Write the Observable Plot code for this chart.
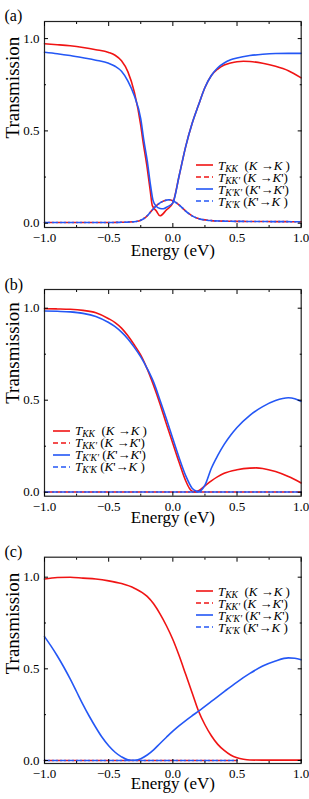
<!DOCTYPE html>
<html><head><meta charset="utf-8">
<script src="https://cdn.jsdelivr.net/npm/d3@7"></script>
<script src="https://cdn.jsdelivr.net/npm/@observablehq/plot@0.6"></script>
<style>
body{margin:0;background:#fff;font-family:"Liberation Serif","Times New Roman",Times,"DejaVu Serif",serif;}
.panel{position:relative;width:309px;}
.panel svg.plot{display:block;}
.legend{position:absolute;font-size:13px;line-height:12px;color:#000;}
.row{display:flex;align-items:center;height:12px;white-space:nowrap;}
.row svg{margin-right:5px;flex:none;}
.row span{line-height:11px;}
.row sub{font-size:9.5px;vertical-align:-2px;font-style:italic;line-height:0;}
</style>
</head><body>
<div id="root"></div>
<script>
// ---------- data ----------
const xMajor = [-1, -0.5, 0, 0.5, 1];
const xMinor = [-0.75, -0.25, 0.25, 0.75];
const yMajor = [0, 0.5, 1];
const yMinor = [0.25, 0.75];
const panelLabels = ["(a)", "(b)", "(c)"];
const xTitle = "Energy (eV)";
const yTitle = "Transmission";
const legendLabels = [
  "<i>T</i><sub>KK</sub>&nbsp; (<i>K</i>&nbsp;→<i>K</i>&nbsp;)",
  "<i>T</i><sub>KK'</sub> (<i>K</i>&nbsp;→<i>K</i>')",
  "<i>T</i><sub>K'K'</sub> (<i>K</i>'→<i>K</i>')",
  "<i>T</i><sub>K'K</sub> (<i>K</i>'→<i>K</i>&nbsp;)"
];
const seriesColors = ["#f01414", "#f01414", "#2457f5", "#2457f5"];
const seriesDash = [null, "5,3", null, "5,3"];

// panel (a)
const aE_KK = [-1,-0.9,-0.8,-0.7,-0.6,-0.5,-0.45,-0.4,-0.35,-0.3,-0.25,-0.234,-0.2,-0.175,-0.16,-0.13,-0.1,-0.05,0,0.05,0.1,0.15,0.2,0.25,0.3,0.35,0.4,0.45,0.5,0.55,0.6,0.7,0.8,0.9,1.0];
const aKK    = [0.972,0.967,0.961,0.952,0.94,0.925,0.91,0.88,0.82,0.71,0.53,0.45,0.30,0.17,0.095,0.068,0.04,0.072,0.11,0.26,0.415,0.54,0.64,0.735,0.8,0.835,0.857,0.868,0.875,0.877,0.876,0.866,0.85,0.826,0.787];
const aE_KpKp = [-1,-0.9,-0.8,-0.7,-0.6,-0.5,-0.45,-0.4,-0.35,-0.3,-0.25,-0.226,-0.2,-0.175,-0.155,-0.13,-0.1,-0.075,-0.04,0,0.05,0.1,0.15,0.2,0.25,0.3,0.35,0.4,0.45,0.5,0.6,0.7,0.8,0.9,1.0];
const aKpKp    = [0.926,0.918,0.908,0.896,0.883,0.866,0.85,0.823,0.77,0.69,0.565,0.448,0.34,0.21,0.125,0.092,0.08,0.078,0.09,0.11,0.26,0.415,0.54,0.64,0.735,0.8,0.842,0.868,0.885,0.895,0.908,0.915,0.919,0.92,0.92];
const aE_cross = [-1,-0.8,-0.6,-0.5,-0.4,-0.35,-0.3,-0.25,-0.2,-0.175,-0.15,-0.1,-0.05,-0.03,0,0.05,0.1,0.15,0.2,0.3,0.4,0.5,0.7,1.0];
const aKKp     = [0.004,0.004,0.004,0.004,0.005,0.006,0.008,0.016,0.04,0.06,0.08,0.11,0.125,0.127,0.122,0.098,0.066,0.04,0.025,0.014,0.011,0.01,0.009,0.008];
const aKpK     = [0.004,0.004,0.004,0.004,0.005,0.006,0.008,0.016,0.04,0.06,0.08,0.11,0.125,0.127,0.122,0.098,0.066,0.04,0.025,0.014,0.011,0.01,0.009,0.008];

// panel (b)
const bE_KK = [-1,-0.9,-0.8,-0.7,-0.6,-0.5,-0.45,-0.4,-0.35,-0.3,-0.25,-0.2,-0.15,-0.1,-0.05,0,0.05,0.1,0.13,0.15,0.17,0.2,0.25,0.3,0.35,0.4,0.5,0.6,0.65,0.7,0.8,0.9,1.0];
const bKK   = [0.997,0.996,0.994,0.988,0.975,0.943,0.922,0.892,0.85,0.8,0.745,0.67,0.58,0.48,0.37,0.265,0.16,0.062,0.02,0.005,0.002,0.008,0.035,0.062,0.085,0.103,0.122,0.131,0.132,0.129,0.112,0.085,0.05];
const bE_KpKp = [-1,-0.9,-0.8,-0.7,-0.6,-0.5,-0.45,-0.4,-0.35,-0.3,-0.25,-0.2,-0.15,-0.1,-0.05,0,0.05,0.1,0.15,0.18,0.2,0.22,0.25,0.3,0.35,0.4,0.45,0.5,0.6,0.7,0.8,0.9,0.95,1.0];
const bKpKp   = [0.985,0.983,0.98,0.972,0.955,0.922,0.9,0.87,0.833,0.787,0.735,0.672,0.598,0.5,0.398,0.29,0.185,0.09,0.022,0.006,0.003,0.01,0.038,0.13,0.2,0.26,0.31,0.352,0.418,0.465,0.498,0.513,0.508,0.493];
const bE_cross = [-1,-0.5,0,0.5,1.0];
const bKKp     = [0.001,0.001,0.001,0.001,0.001];
const bKpK     = [0.001,0.001,0.001,0.001,0.001];

// panel (c)
const cE_KK = [-1,-0.9,-0.8,-0.7,-0.6,-0.5,-0.4,-0.3,-0.2,-0.15,-0.1,-0.05,0,0.05,0.1,0.15,0.2,0.25,0.3,0.35,0.4,0.45,0.5,0.55,0.6,0.7,0.8,0.9,1.0];
const cKK   = [0.99,0.998,1.0,0.995,0.99,0.98,0.965,0.94,0.895,0.855,0.8,0.735,0.66,0.57,0.47,0.37,0.27,0.195,0.135,0.088,0.055,0.03,0.015,0.007,0.003,0.002,0.002,0.002,0.002];
const cE_KpKp = [-1,-0.95,-0.9,-0.85,-0.8,-0.75,-0.7,-0.65,-0.6,-0.55,-0.5,-0.45,-0.4,-0.35,-0.3,-0.25,-0.2,-0.15,-0.1,-0.05,0,0.05,0.1,0.15,0.2,0.3,0.4,0.5,0.6,0.7,0.8,0.9,0.95,1.0];
const cKpKp   = [0.676,0.625,0.57,0.51,0.445,0.375,0.305,0.24,0.18,0.125,0.08,0.045,0.02,0.004,0.001,0.01,0.03,0.058,0.093,0.127,0.16,0.19,0.218,0.244,0.269,0.322,0.376,0.428,0.475,0.515,0.543,0.56,0.558,0.55];
const cE_cross = [-1,-0.5,0,0.5];
const cKKp     = [0.0,0.0,0.0,0.0];
const cKpK     = [0.0,0.0,0.0,0.0];

// ---------- drawing ----------
const fmt = d3.format(".1f");
const panels = [
  {label: panelLabels[0], height: 265, mt: 21, mb: 38, yDom: [-0.0233, 1.0926], labelDy: -12, xtDy: 28.5, ytDy: 14,
   series: [[aE_KK, aKK], [aE_cross, aKKp], [aE_KpKp, aKpKp], [aE_cross, aKpK]],
   legend: {left: 196, top: 159}},
  {label: panelLabels[1], height: 268, mt: 24, mb: 37.3, yDom: [-0.0217, 1.1016], labelDy: -10.7, xtDy: 26.5, ytDy: 11,
   series: [[bE_KK, bKK], [bE_cross, bKKp], [bE_KpKp, bKpKp], [bE_cross, bKpK]],
   legend: {left: 53, top: 159.7}},
  {label: panelLabels[2], height: 266, mt: 23.7, mb: 36, yDom: [-0.0164, 1.109], labelDy: -11.7, xtDy: 25.5, ytDy: 14,
   series: [[cE_KK, cKK], [cE_cross, cKKp], [cE_KpKp, cKpKp], [cE_cross, cKpK]],
   legend: {left: 196, top: 52}}
];

const root = document.getElementById("root");
const font = "'Liberation Serif', 'Times New Roman', Times, 'DejaVu Serif', serif";
for (const p of panels) {
  const lineMarks = p.series.map(([e, t], i) => Plot.line(t, {
    x: e, y: t, stroke: seriesColors[i], strokeWidth: 1.6,
    strokeDasharray: seriesDash[i], strokeDashoffset: i === 1 ? 4 : 0, curve: "monotone-x"
  }));
  const chart = Plot.plot({
    width: 309, height: p.height,
    marginLeft: 44, marginRight: 8.3, marginTop: p.mt, marginBottom: p.mb,
    style: {fontFamily: font, fontSize: "13px", color: "#000", background: "#fff"},
    x: {domain: [-1, 1]},
    y: {domain: p.yDom},
    marks: [
      ...lineMarks,
      Plot.frame({stroke: "#222", strokeWidth: 1.2}),
      Plot.axisX({anchor: "bottom", ticks: xMajor, tickSize: -4, tickPadding: 9.5, tickFormat: fmt, label: null, fontSize: 13}),
      Plot.axisX({anchor: "bottom", ticks: xMinor, tickSize: -2, tickFormat: () => "", label: null}),
      Plot.axisX({anchor: "top", ticks: xMajor, tickSize: -4, tickFormat: () => "", label: null}),
      Plot.axisX({anchor: "top", ticks: xMinor, tickSize: -2, tickFormat: () => "", label: null}),
      Plot.axisY({anchor: "left", ticks: yMajor, tickSize: -4, tickPadding: 9, tickFormat: fmt, label: null, fontSize: 13}),
      Plot.axisY({anchor: "left", ticks: yMinor, tickSize: -2, tickFormat: () => "", label: null}),
      Plot.axisY({anchor: "right", ticks: yMajor, tickSize: -4, tickFormat: () => "", label: null}),
      Plot.axisY({anchor: "right", ticks: yMinor, tickSize: -2, tickFormat: () => "", label: null}),
      Plot.text([xTitle], {frameAnchor: "bottom", dy: p.xtDy, fontSize: 17}),
      Plot.text([yTitle], {frameAnchor: "left", dx: -32, dy: p.ytDy, rotate: -90, fontSize: 19}),
      Plot.text([p.label], {frameAnchor: "top-left", dx: -40, dy: p.labelDy, textAnchor: "start", fontSize: 16})
    ]
  });
  chart.classList.add("plot");
  const wrap = document.createElement("div");
  wrap.className = "panel";
  wrap.appendChild(chart);
  const leg = document.createElement("div");
  leg.className = "legend";
  leg.style.left = p.legend.left + "px";
  leg.style.top = p.legend.top + "px";
  legendLabels.forEach((lab, i) => {
    const row = document.createElement("div");
    row.className = "row";
    const dash = seriesDash[i] ? ` stroke-dasharray="${seriesDash[i]}"` : "";
    row.innerHTML = `<svg width="17" height="4"><line x1="0" y1="2" x2="17" y2="2" stroke="${seriesColors[i]}" stroke-width="1.6"${dash}/></svg><span>${lab}</span>`;
    leg.appendChild(row);
  });
  wrap.appendChild(leg);
  root.appendChild(wrap);
}
</script>
</body></html>
